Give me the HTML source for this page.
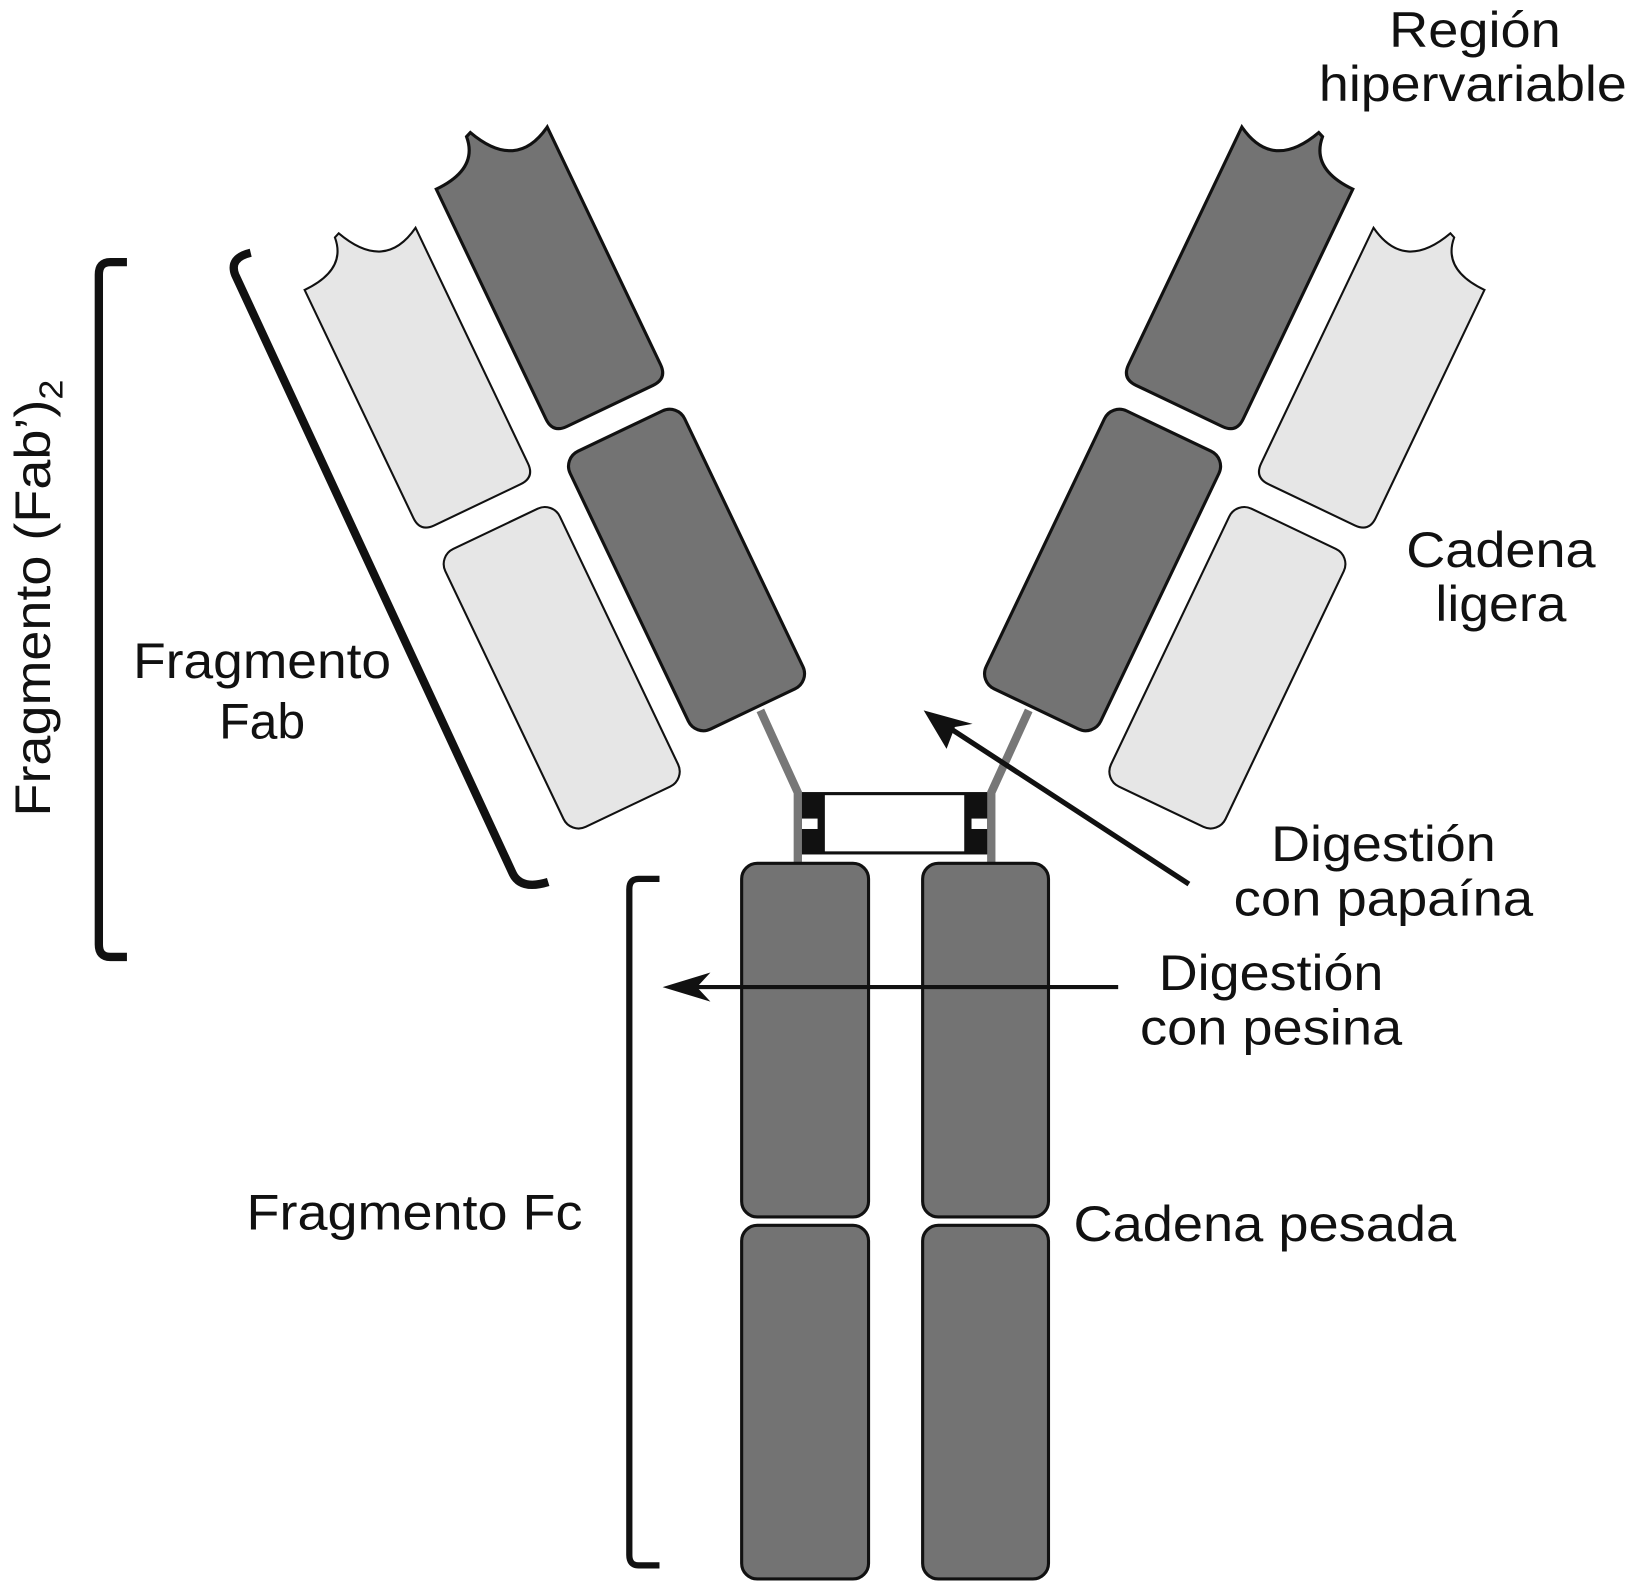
<!DOCTYPE html>
<html><head><meta charset="utf-8"><style>
html,body{margin:0;padding:0;background:#fff;}
svg{display:block;}
text{font-family:"Liberation Sans",Arial,Helvetica,sans-serif;}
</style></head><body>
<svg width="1631" height="1581" viewBox="0 0 1568 1520" xmlns="http://www.w3.org/2000/svg">
<defs>
<g id="arm">
  <g transform="translate(403,368) rotate(-25.5)">
    <path d="M -61,-128 Q -16,-128 -13,-161 L -8,-163 Q 16,-110 61,-136 L 61,115 Q 61,130 46,130 L -46,130 Q -61,130 -61,115 Z" fill="#e6e6e6" stroke="#111" stroke-width="2"/>
  </g>
  <g transform="translate(540,642) rotate(-25.5)">
    <rect x="-61" y="-148" width="122" height="296" rx="16" fill="#e6e6e6" stroke="#111" stroke-width="2"/>
  </g>
  <g transform="translate(530,272) rotate(-25.5)">
    <path d="M -61,-129 Q -16,-129 -13,-162 L -8,-164 Q 16,-111 61,-137 L 61,116 Q 61,131 46,131 L -46,131 Q -61,131 -61,116 Z" fill="#737373" stroke="#111" stroke-width="3"/>
  </g>
  <g transform="translate(660,548) rotate(-25.5)">
    <rect x="-61" y="-148" width="122" height="296" rx="16" fill="#737373" stroke="#111" stroke-width="3"/>
  </g>
  <polyline points="731,683 767,762 767,830" fill="none" stroke="#777" stroke-width="8"/>
  <rect x="771" y="762" width="22" height="59" fill="#111"/>
  <rect x="771" y="787" width="15" height="10" fill="#fff"/>
</g>
</defs>

<rect x="772" y="763" width="176" height="57" fill="#fff" stroke="#111" stroke-width="3"/>
<use href="#arm"/>
<use href="#arm" transform="translate(1720,0) scale(-1,1)"/>

<rect x="713" y="830" width="122" height="340" rx="15" fill="#737373" stroke="#111" stroke-width="3"/>
<rect x="713" y="1178" width="122" height="340" rx="15" fill="#737373" stroke="#111" stroke-width="3"/>
<rect x="887" y="830" width="121" height="340" rx="15" fill="#737373" stroke="#111" stroke-width="3"/>
<rect x="887" y="1178" width="121" height="340" rx="15" fill="#737373" stroke="#111" stroke-width="3"/>

<path d="M122,252 L106,252 Q95,252 95,264 L95,908 Q95,920 106,920 L122,920" fill="none" stroke="#111" stroke-width="8"/>
<path d="M241,243 Q220,248 226,264 L493,840 Q501,856 527,848" fill="none" stroke="#111" stroke-width="8"/>
<path d="M634,845 L614,845 Q605,845 605,855 L605,1495 Q605,1505 614,1505 L634,1505" fill="none" stroke="#111" stroke-width="6"/>

<line x1="1143" y1="850" x2="910" y2="698" stroke="#111" stroke-width="5"/>
<polygon points="888,683 935,696 918,699 910,720" fill="#111"/>
<line x1="1075" y1="949" x2="660" y2="949" stroke="#111" stroke-width="4"/>
<polygon points="637,949 683,935 670,949 683,963" fill="#111"/>

<g font-size="48" fill="#111">
<text x="1418" y="45" text-anchor="middle" textLength="165" lengthAdjust="spacingAndGlyphs">Región</text>
<text x="1416" y="97" text-anchor="middle" textLength="296" lengthAdjust="spacingAndGlyphs">hipervariable</text>
<text x="1443" y="545" text-anchor="middle" textLength="182" lengthAdjust="spacingAndGlyphs">Cadena</text>
<text x="1443" y="597" text-anchor="middle" textLength="126" lengthAdjust="spacingAndGlyphs">ligera</text>
<text x="1330" y="828" text-anchor="middle" textLength="216" lengthAdjust="spacingAndGlyphs">Digestión</text>
<text x="1330" y="880" text-anchor="middle" textLength="288" lengthAdjust="spacingAndGlyphs">con papaína</text>
<text x="1222" y="952" text-anchor="middle" textLength="216" lengthAdjust="spacingAndGlyphs">Digestión</text>
<text x="1222" y="1004" text-anchor="middle" textLength="252" lengthAdjust="spacingAndGlyphs">con pesina</text>
<text x="1032" y="1193" textLength="368" lengthAdjust="spacingAndGlyphs">Cadena pesada</text>
<text x="237" y="1182" textLength="323" lengthAdjust="spacingAndGlyphs">Fragmento Fc</text>
<text x="252" y="652" text-anchor="middle" textLength="248" lengthAdjust="spacingAndGlyphs">Fragmento</text>
<text x="252" y="710" text-anchor="middle">Fab</text>
<text transform="translate(48,575) rotate(-90)" text-anchor="middle" textLength="420" lengthAdjust="spacingAndGlyphs">Fragmento (Fab’)<tspan font-size="32" dy="12">2</tspan></text>
</g>
</svg>
</body></html>
